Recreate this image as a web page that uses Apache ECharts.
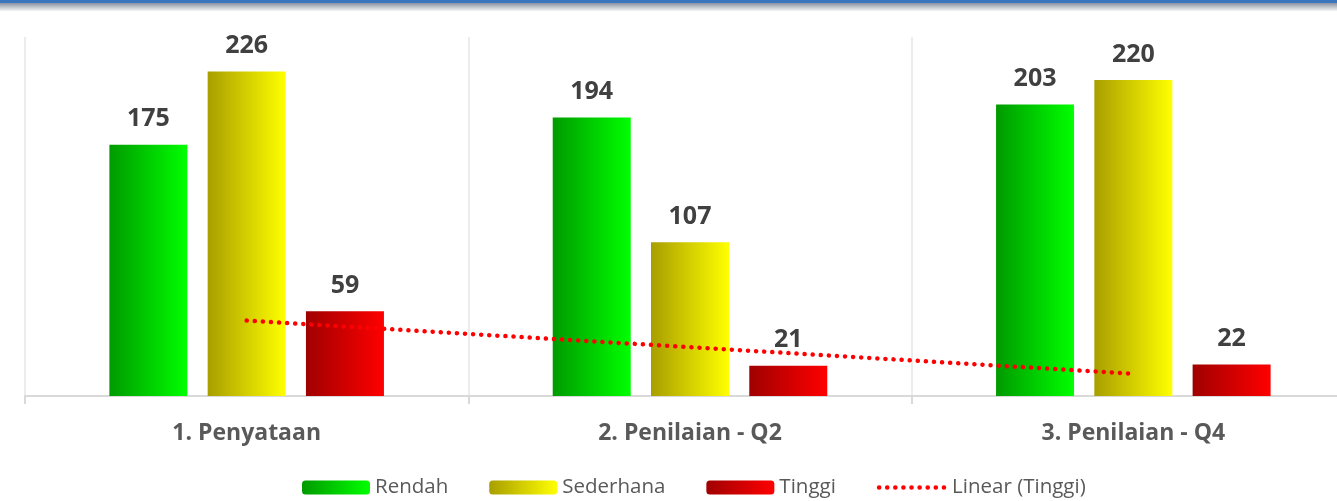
<!DOCTYPE html>
<html>
<head>
<meta charset="utf-8">
<script src="https://cdn.jsdelivr.net/npm/echarts@6/dist/echarts.min.js"></script>
<style>
  html, body { margin: 0; padding: 0; background: #fff; }
  #chart { width: 1337px; height: 501px; }
</style>
</head>
<body>
<div id="chart"></div>
<script>
// data
var categories = ["1. Penyataan", "2. Penilaian - Q2", "3. Penilaian - Q4"];
var rendah = [175, 194, 203];
var sederhana = [226, 107, 220];
var tinggi = [59, 21, 22];
var trendTinggi = [52.5, 34, 15.5]; // Linear (Tinggi)

function hGrad(from, to) {
  return new echarts.graphic.LinearGradient(0, 0, 1, 0, [
    { offset: 0, color: from },
    { offset: 1, color: to },
  ]);
}

var chart = echarts.init(document.getElementById("chart"));

var labelStyle = {
  show: true,
  position: "top",
  distance: 13,
  color: "#404040",
  fontFamily: "Open Sans",
  fontWeight: "bold",
  fontSize: 25,
};

var dotted = { color: "#ff0000", width: 4.5, type: [0.1, 8], cap: "round" };

var option = {
  backgroundColor: "#ffffff",
  animation: false,
  graphic: [
    {
      type: "rect",
      left: 0,
      top: 0,
      shape: { width: 1337, height: 3 },
      style: { fill: "#3b75bd" },
    },
    {
      type: "rect",
      left: 0,
      top: 3,
      shape: { width: 1337, height: 8 },
      style: {
        fill: new echarts.graphic.LinearGradient(0, 0, 0, 1, [
          { offset: 0, color: "#8a93a3" },
          { offset: 1, color: "#f4f4f4" },
        ]),
      },
    },
  ],
  legend: {
    bottom: 3,
    left: 302,
    padding: 0,
    itemWidth: 68,
    itemHeight: 14,
    itemGap: 41,
    textStyle: { color: "#595959", fontFamily: "Open Sans", fontSize: 20.5 },
    data: [
      "Rendah",
      "Sederhana",
      "Tinggi",
      { name: "Linear (Tinggi)", itemStyle: { opacity: 0 }, lineStyle: dotted },
    ],
  },
  grid: {
    left: 25,
    top: 37,
    right: -18,
    bottom: 105,
    outerBoundsMode: "none",
  },
  xAxis: {
    type: "category",
    data: categories,
    axisLine: { lineStyle: { color: "#d9d9d9", width: 2 } },
    axisTick: { show: true, length: 8, lineStyle: { color: "#d9d9d9", width: 2 } },
    axisLabel: {
      color: "#595959",
      fontFamily: "Open Sans",
      fontWeight: "bold",
      fontSize: 23,
      margin: 26,
    },
    splitLine: { show: true, lineStyle: { color: "#ececec", width: 2 } },
  },
  yAxis: {
    type: "value",
    min: 0,
    max: 250,
    show: false,
    splitLine: { show: false },
  },
  series: [
    {
      name: "Rendah",
      type: "bar",
      data: rendah,
      barWidth: 78,
      barGap: "26%",
      itemStyle: { color: hGrad("#009a00", "#00ff00") },
      label: labelStyle,
    },
    {
      name: "Sederhana",
      type: "bar",
      data: sederhana,
      barWidth: 78,
      barGap: "26%",
      itemStyle: { color: hGrad("#a89e00", "#ffff00") },
      label: labelStyle,
    },
    {
      name: "Tinggi",
      type: "bar",
      data: tinggi,
      barWidth: 78,
      barGap: "26%",
      itemStyle: { color: hGrad("#a00000", "#ff0000") },
      label: labelStyle,
    },
    {
      name: "Linear (Tinggi)",
      type: "line",
      data: trendTinggi,
      symbol: "none",
      z: 5,
      itemStyle: { color: "#ff0000" },
      lineStyle: dotted,
    },
  ],
};

chart.setOption(option);
window.onresize = chart.resize;
</script>
</body>
</html>
